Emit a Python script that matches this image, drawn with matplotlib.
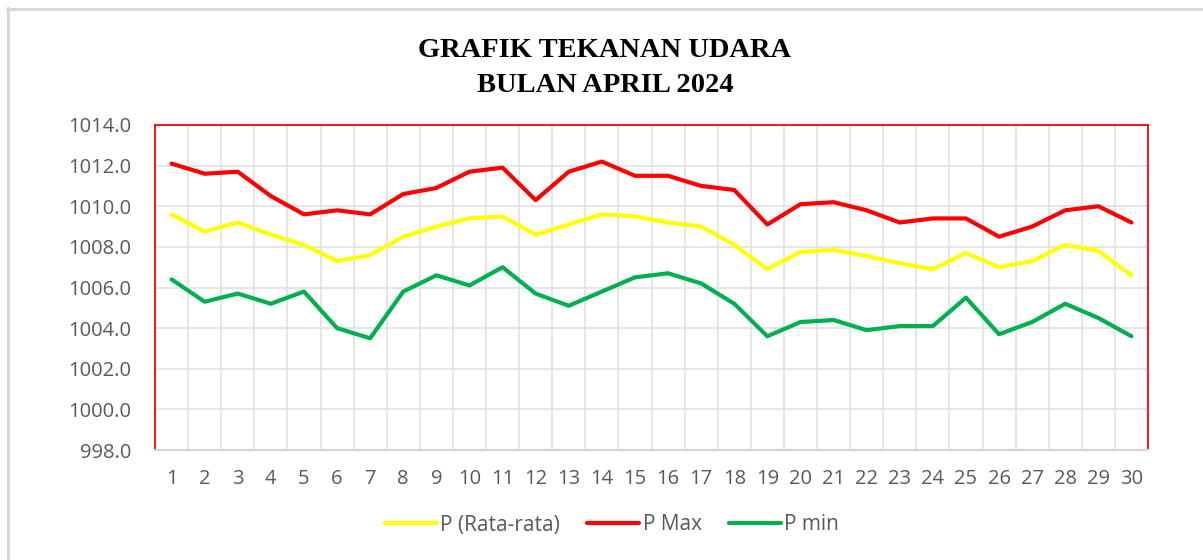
import numpy as np
import matplotlib.pyplot as plt
from matplotlib.lines import Line2D

# data (hPa)
days = list(range(1, 31))
p_rata = [1009.6, 1008.75, 1009.2, 1008.6, 1008.1, 1007.3, 1007.6, 1008.5, 1009.0, 1009.4,
          1009.5, 1008.6, 1009.1, 1009.6, 1009.5, 1009.2, 1009.0, 1008.1, 1006.9, 1007.75,
          1007.85, 1007.55, 1007.2, 1006.9, 1007.7, 1007.0, 1007.3, 1008.1, 1007.8, 1006.6]
p_max = [1012.1, 1011.6, 1011.7, 1010.5, 1009.6, 1009.8, 1009.6, 1010.6, 1010.9, 1011.7,
         1011.9, 1010.3, 1011.7, 1012.2, 1011.5, 1011.5, 1011.0, 1010.8, 1009.1, 1010.1,
         1010.2, 1009.8, 1009.2, 1009.4, 1009.4, 1008.5, 1009.0, 1009.8, 1010.0, 1009.2]
p_min = [1006.4, 1005.3, 1005.7, 1005.2, 1005.8, 1004.0, 1003.5, 1005.8, 1006.6, 1006.1,
         1007.0, 1005.7, 1005.1, 1005.8, 1006.5, 1006.7, 1006.2, 1005.2, 1003.6, 1004.3,
         1004.4, 1003.9, 1004.1, 1004.1, 1005.5, 1003.7, 1004.3, 1005.2, 1004.5, 1003.6]
yticks = np.arange(998, 1015, 2)

label_color = "#595959"
grid_color = "#e3e3e3"

fig = plt.figure(figsize=(12.03, 5.6), dpi=100)
ax = fig.add_axes([155/1203, 1 - 450/560, (1148 - 155)/1203, (450 - 125)/560])

# outer chart frame (light gray)
fig.add_artist(Line2D([7/1203, 1], [1 - 8.5/560, 1 - 8.5/560], transform=fig.transFigure,
                      color="#d9d9d9", lw=2.2))
fig.add_artist(Line2D([7.5/1203, 7.5/1203], [0, 1 - 8/560], transform=fig.transFigure,
                      color="#d9d9d9", lw=2.2))

ax.plot(days, p_rata, color="#ffff00", lw=3, label="P (Rata-rata)", solid_capstyle="round")
ax.plot(days, p_max, color="#ff0000", lw=3, label="P Max", solid_capstyle="round")
ax.plot(days, p_min, color="#00b050", lw=3, label="P min", solid_capstyle="round")

ax.set_xlim(0.5, 30.5)
ax.set_ylim(998, 1014)
ax.set_yticks(yticks)
ax.set_yticklabels([f"{v:.1f}" for v in yticks])
ax.set_xticks(days)

# grid: horizontal at ticks, vertical between categories
for y in yticks[1:-1]:
    ax.axhline(y, color=grid_color, lw=1.3, zorder=0)
for x in np.arange(1.5, 30.5, 1):
    ax.axvline(x, color=grid_color, lw=1.3, zorder=0)

for side in ["left", "top", "right"]:
    ax.spines[side].set_color("#ff0000")
    ax.spines[side].set_linewidth(1.3)
ax.spines["bottom"].set_color("#dcd0d0")
ax.spines["bottom"].set_linewidth(1.5)

ax.tick_params(axis="both", length=0, labelsize=14.5, labelcolor=label_color)
ax.tick_params(axis="y", pad=17)
ax.tick_params(axis="x", pad=14)
for lbl in ax.get_xticklabels() + ax.get_yticklabels():
    lbl.set_fontfamily("Open Sans")

fig.text(605/1203, 1 - 68/560, "GRAFIK TEKANAN UDARA\nBULAN APRIL 2024", ha="center", va="center",
         fontsize=20.5, fontweight="bold", family="Liberation Serif", linespacing=1.5)

leg = ax.legend(loc="center", bbox_to_anchor=(612/1203, 1 - 525/560), bbox_transform=fig.transFigure,
                ncol=3, frameon=False, handlelength=2.5, handletextpad=0.15,
                columnspacing=1.3, prop={"family": "Open Sans", "size": 15})
for t in leg.get_texts():
    t.set_color(label_color)

fig.savefig("out.png", dpi=100)
